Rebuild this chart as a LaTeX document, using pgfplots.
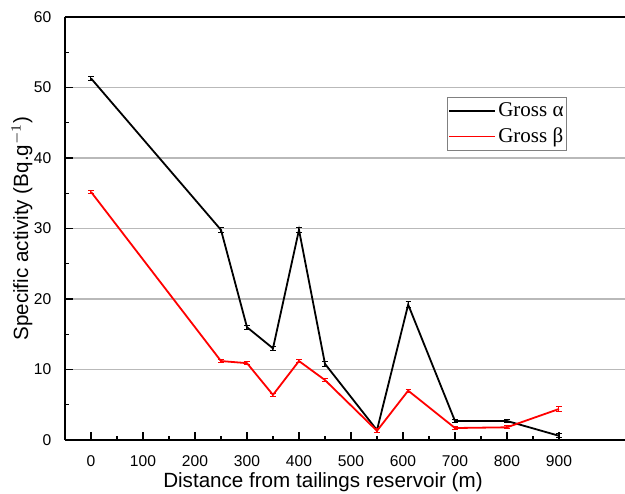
\documentclass[border=0pt]{standalone}
\usepackage{fontspec}
\setmainfont{Liberation Sans}
\newfontfamily\legfont{Liberation Serif}
\usepackage{pgfplots}
\pgfplotsset{compat=1.18}
\definecolor{gridgray}{RGB}{185,185,185}
\begin{document}
\begin{tikzpicture}
\begin{axis}[
    name=ax,
    scale only axis,
    width=280pt, height=211.5pt,
    xmin=-50, xmax=1027,
    ymin=0, ymax=60,
    axis y line*=left,
    axis x line*=box,
    axis line style={line width=0.8pt},
    xtick={0,100,...,900},
    minor xtick={50,150,...,850},
    ytick={0,10,...,60},
    minor ytick={5,15,...,55},
    xtick pos=bottom, ytick pos=left,
    tick align=inside,
    major tick length=3.8pt, minor tick length=2pt,
    every tick/.style={black, line width=0.6pt},
    /pgf/number format/assume math mode=true,
    ticklabel style={font=\fontsize{7.8}{8}\selectfont},
    xticklabel style={yshift=-4.3pt},
    yticklabel style={xshift=-3.3pt},
    ymajorgrids=true,
    grid style={gridgray, line width=0.6pt},
    xlabel={Distance from tailings reservoir (m)},
    ylabel={Specific activity (Bq.g$^{-1}$)},
    label style={font=\fontsize{10.3}{12}\selectfont},
    xlabel style={at={(rel axis cs:0.4607,0)}, anchor=center, yshift=-21pt},
    ylabel style={at={(rel axis cs:0,0.5)}, anchor=center, yshift=21.5pt},
    legend style={at={(rel axis cs:0.896,0.811)}, anchor=north east,
        draw=gray, font=\legfont\fontsize{10.5}{12}\selectfont,
        inner xsep=0.4pt, inner ysep=1.3pt, row sep=1.5pt,
        nodes={inner xsep=1pt, inner ysep=1.3pt}},
    legend cell align=left,
    legend image code/.code={\draw[#1] (0pt,0pt) -- (23pt,0pt);},
    error bars/error bar style={line width=0.5pt},
    error bars/error mark options={rotate=90, mark size=1.3pt, line width=0.5pt},
]
\addplot[black, line width=0.9pt, mark=none,
    error bars/.cd, y dir=both, y explicit]
coordinates {
    (0,51.3) +- (0,0.3)
    (250,29.8) +- (0,0.3)
    (300,16.0) +- (0,0.3)
    (350,13.0) +- (0,0.3)
    (400,29.8) +- (0,0.3)
    (450,10.8) +- (0,0.4)
    (550,1.4) +- (0,0.3)
    (610,19.2) +- (0,0.4)
    (700,2.7) +- (0,0.2)
    (800,2.7) +- (0,0.2)
    (900,0.6) +- (0,0.3)
};
\addlegendentry{Gross α}
\addplot[red, line width=0.9pt, mark=none,
    error bars/.cd, y dir=both, y explicit]
coordinates {
    (0,35.2) +- (0,0.2)
    (250,11.2) +- (0,0.2)
    (300,10.9) +- (0,0.2)
    (350,6.4) +- (0,0.2)
    (400,11.2) +- (0,0.2)
    (450,8.5) +- (0,0.2)
    (550,1.3) +- (0,0.3)
    (610,7.0) +- (0,0.2)
    (700,1.7) +- (0,0.2)
    (800,1.8) +- (0,0.2)
    (900,4.4) +- (0,0.3)
};
\addlegendentry{Gross β}
\end{axis}
\pgfresetboundingbox
\path ([xshift=-32.5pt,yshift=-26.5pt]ax.south west) rectangle ([yshift=8.5pt]ax.north east);
\end{tikzpicture}
\end{document}
